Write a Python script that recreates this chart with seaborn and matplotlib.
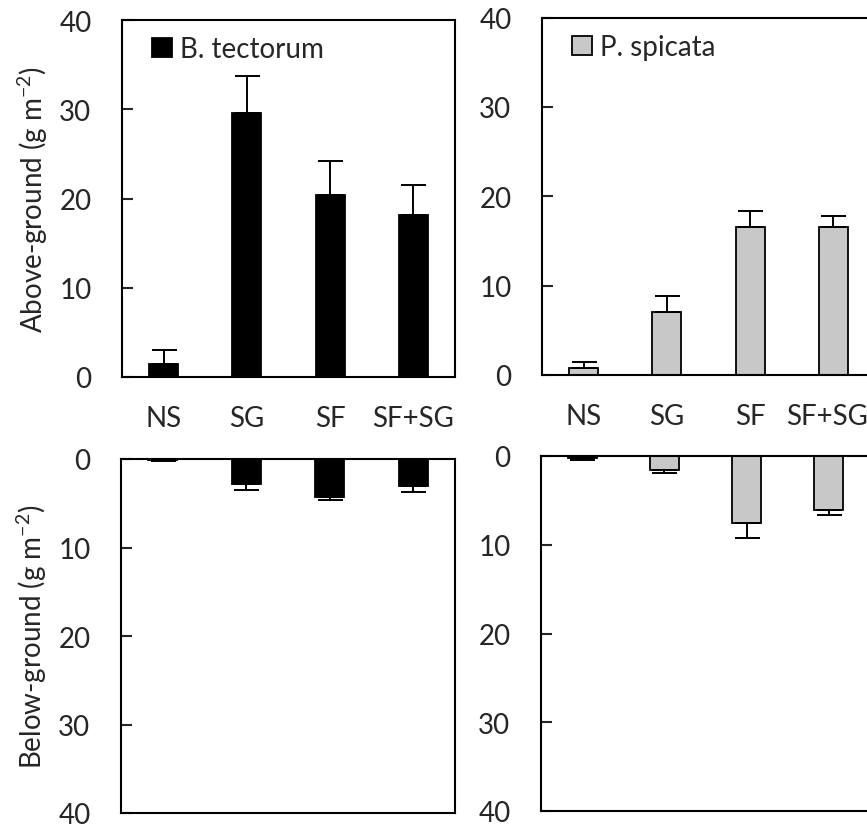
import matplotlib
matplotlib.use("Agg")
import matplotlib.pyplot as plt
from matplotlib.patches import Patch
from matplotlib.transforms import ScaledTranslation
import seaborn as sns

treatments = ["NS", "SG", "SF", "SF+SG"]

# above-ground biomass (g m-2), mean and SE
bt_above = [1.5, 29.6, 20.4, 18.1]
bt_above_se = [1.5, 4.1, 3.8, 3.4]
ps_above = [0.75, 7.1, 16.6, 16.6]
ps_above_se = [0.65, 1.7, 1.7, 1.15]

# below-ground biomass (g m-2), mean and SE
bt_below = [0.15, 2.8, 4.3, 3.0]
bt_below_se = [0.05, 0.65, 0.3, 0.75]
ps_below = [0.2, 1.55, 7.6, 6.1]
ps_below_se = [0.25, 0.4, 1.6, 0.55]

species = ["B. tectorum", "P. spicata"]
colors = ["#000000", "#C8C8C8"]

FS = 20

sns.set_theme(style="white")
plt.rcParams["font.family"] = ["Lato", "DejaVu Sans"]
plt.rcParams["mathtext.fontset"] = "custom"
plt.rcParams["mathtext.rm"] = "Lato"

W, H = 867, 828
fig = plt.figure(figsize=(W / 100, H / 100), dpi=100)


def px_axes(left, top, width, height):
    return fig.add_axes([left / W, 1 - (top + height) / H, width / W, height / H])


def draw(ax, vals, errs, color, below=False):
    sns.barplot(x=treatments, y=vals, color=color, saturation=1,
                edgecolor="black", linewidth=1.3, width=0.35, ax=ax)
    ax.errorbar(range(len(treatments)), vals, yerr=[[0] * len(errs), errs],
                fmt="none", ecolor="black", elinewidth=1.4, capsize=9,
                capthick=1.4, zorder=5)
    ax.set_xlim(-0.5, 3.5)
    if below:
        ax.set_ylim(40, 0)
        ax.set_xticks([])
    else:
        ax.set_ylim(0, 40)
        ax.tick_params(axis="x", length=0, pad=20, labelsize=FS)
    ax.set_yticks([0, 10, 20, 30, 40])
    ax.tick_params(axis="y", direction="in", length=8, width=1.5,
                   pad=22, labelsize=FS, left=True)
    for s in ax.spines.values():
        s.set_linewidth(1.5)
        s.set_color("black")
    ax.set_xlabel("")
    ax.set_ylabel("")


ax1 = px_axes(122, 21, 333, 357)
ax2 = px_axes(542, 18.5, 333, 357.5)
ax3 = px_axes(121, 460, 334, 354)
ax4 = px_axes(541, 457, 329, 355)

draw(ax1, bt_above, bt_above_se, colors[0])
draw(ax2, ps_above, ps_above_se, colors[1])
draw(ax3, bt_below, bt_below_se, colors[0], below=True)
draw(ax4, ps_below, ps_below_se, colors[1], below=True)

# keep the last category label of the right panel inside the figure
last = ax2.get_xticklabels()[-1]
last.set_transform(last.get_transform() + ScaledTranslation(-6 / 100, 0, fig.dpi_scale_trans))

for ax, name, c in [(ax1, species[0], colors[0]), (ax2, species[1], colors[1])]:
    ax.legend(handles=[Patch(facecolor=c, edgecolor="black", linewidth=1.3, label=name)],
              loc="upper left", bbox_to_anchor=(0.057, 0.985), frameon=False,
              fontsize=FS, handlelength=0.7, handleheight=0.7,
              handletextpad=0.3, borderaxespad=0)

ax1.set_ylabel(r"Above-ground (g m$^{\mathregular{-2}}$)", fontsize=FS)
ax1.yaxis.set_label_coords(-0.215, 0.5)
ax3.set_ylabel(r"Below-ground (g m$^{\mathregular{-2}}$)", fontsize=FS)
ax3.yaxis.set_label_coords(-0.215, 0.5)

fig.savefig("out.png", dpi=100)
